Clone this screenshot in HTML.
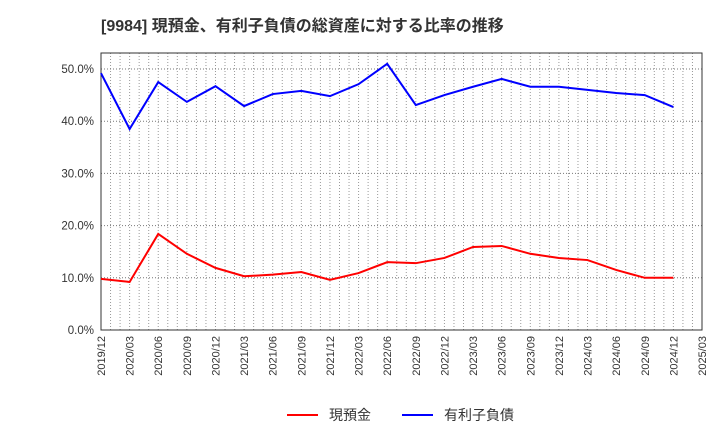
<!DOCTYPE html>
<html><head><meta charset="utf-8"><style>
body{margin:0;background:#fff;width:720px;height:440px;overflow:hidden;font-family:"Liberation Sans","Noto Sans CJK JP",sans-serif}
</style></head><body>
<svg id="c" width="720" height="440" xmlns="http://www.w3.org/2000/svg">
<text x="101" y="31" font-size="16" font-weight="bold" fill="#333" font-family="Liberation Sans,Noto Sans CJK JP,sans-serif">[9984]  現預金、有利子負債の総資産に対する比率の推移</text>
</svg>
<script>
const categories=["2019/12","2020/03","2020/06","2020/09","2020/12","2021/03","2021/06","2021/09","2021/12","2022/03","2022/06","2022/09","2022/12","2023/03","2023/06","2023/09","2023/12","2024/03","2024/06","2024/09","2024/12","2025/03"];
const cashValues=[9.8,9.2,18.4,14.6,11.9,10.3,10.6,11.1,9.6,10.9,13.0,12.8,13.8,15.9,16.1,14.6,13.8,13.4,11.5,10.0,10.0];
const debtValues=[49.2,38.5,47.5,43.7,46.7,42.9,45.2,45.8,44.8,47.1,51.0,43.1,45.0,46.6,48.1,46.6,46.6,46.0,45.4,45.0,42.7];
const yTicks=[0,10,20,30,40,50];
const NS="http://www.w3.org/2000/svg";
const svg=document.getElementById('c');
const L=101,R=702,T=53,B=330;
const x=i=>L+i*(R-L)/(categories.length-1);
const y=v=>B-v*(B-69)/50;
function mk(t,a){const e=document.createElementNS(NS,t);for(const k in a)e.setAttribute(k,a[k]);svg.appendChild(e);return e;}
for(let m=1;m<(categories.length-1)*3;m++){
 const g=mk('line',{x1:L+m*(R-L)/((categories.length-1)*3),x2:L+m*(R-L)/((categories.length-1)*3),y1:T,y2:B,stroke:'#999','stroke-dasharray':'1,2','stroke-width':1});
 
 
}
yTicks.forEach(v=>{
 if(v>0){const g=mk('line',{x1:L,x2:R,y1:y(v),y2:y(v),stroke:'#777','stroke-dasharray':'1,2'});
 
 }
 const t=mk('text',{x:L-7,y:y(v)+4,'text-anchor':'end','font-size':11.5,fill:'#333'});
 t.textContent=v.toFixed(1)+'%';
 
 
});
const fr=mk('rect',{x:L,y:T,width:R-L,height:B-T,fill:'none',stroke:'#333'});


categories.forEach((c,i)=>{
 const t=mk('text',{transform:`translate(${x(i)+4},${B+6}) rotate(-90)`,'text-anchor':'end','font-size':11,fill:'#333'});
 t.textContent=c;
 
 
});
function line(vals,color,name){
 const p=mk('polyline',{points:vals.map((v,i)=>x(i)+','+y(v)).join(' '),fill:'none',stroke:color,'stroke-width':2});
 
 
}
line(cashValues,'#f00','cash-line');
line(debtValues,'#00f','debt-line');
[[287,'#f00','現預金','legend-cash'],[402,'#00f','有利子負債','legend-debt']].forEach(([lx,c,n,dn])=>{
 const g=mk('g',{});
 
 
 const l=document.createElementNS(NS,'line');
 l.setAttribute('x1',lx);l.setAttribute('x2',lx+31);l.setAttribute('y1',415);l.setAttribute('y2',415);l.setAttribute('stroke',c);l.setAttribute('stroke-width',2);
 g.appendChild(l);
 const t=document.createElementNS(NS,'text');
 t.setAttribute('x',lx+42);t.setAttribute('y',420);t.setAttribute('font-size',14);t.setAttribute('fill','#333');
 t.textContent=n;g.appendChild(t);
});
</script>
</body></html>
